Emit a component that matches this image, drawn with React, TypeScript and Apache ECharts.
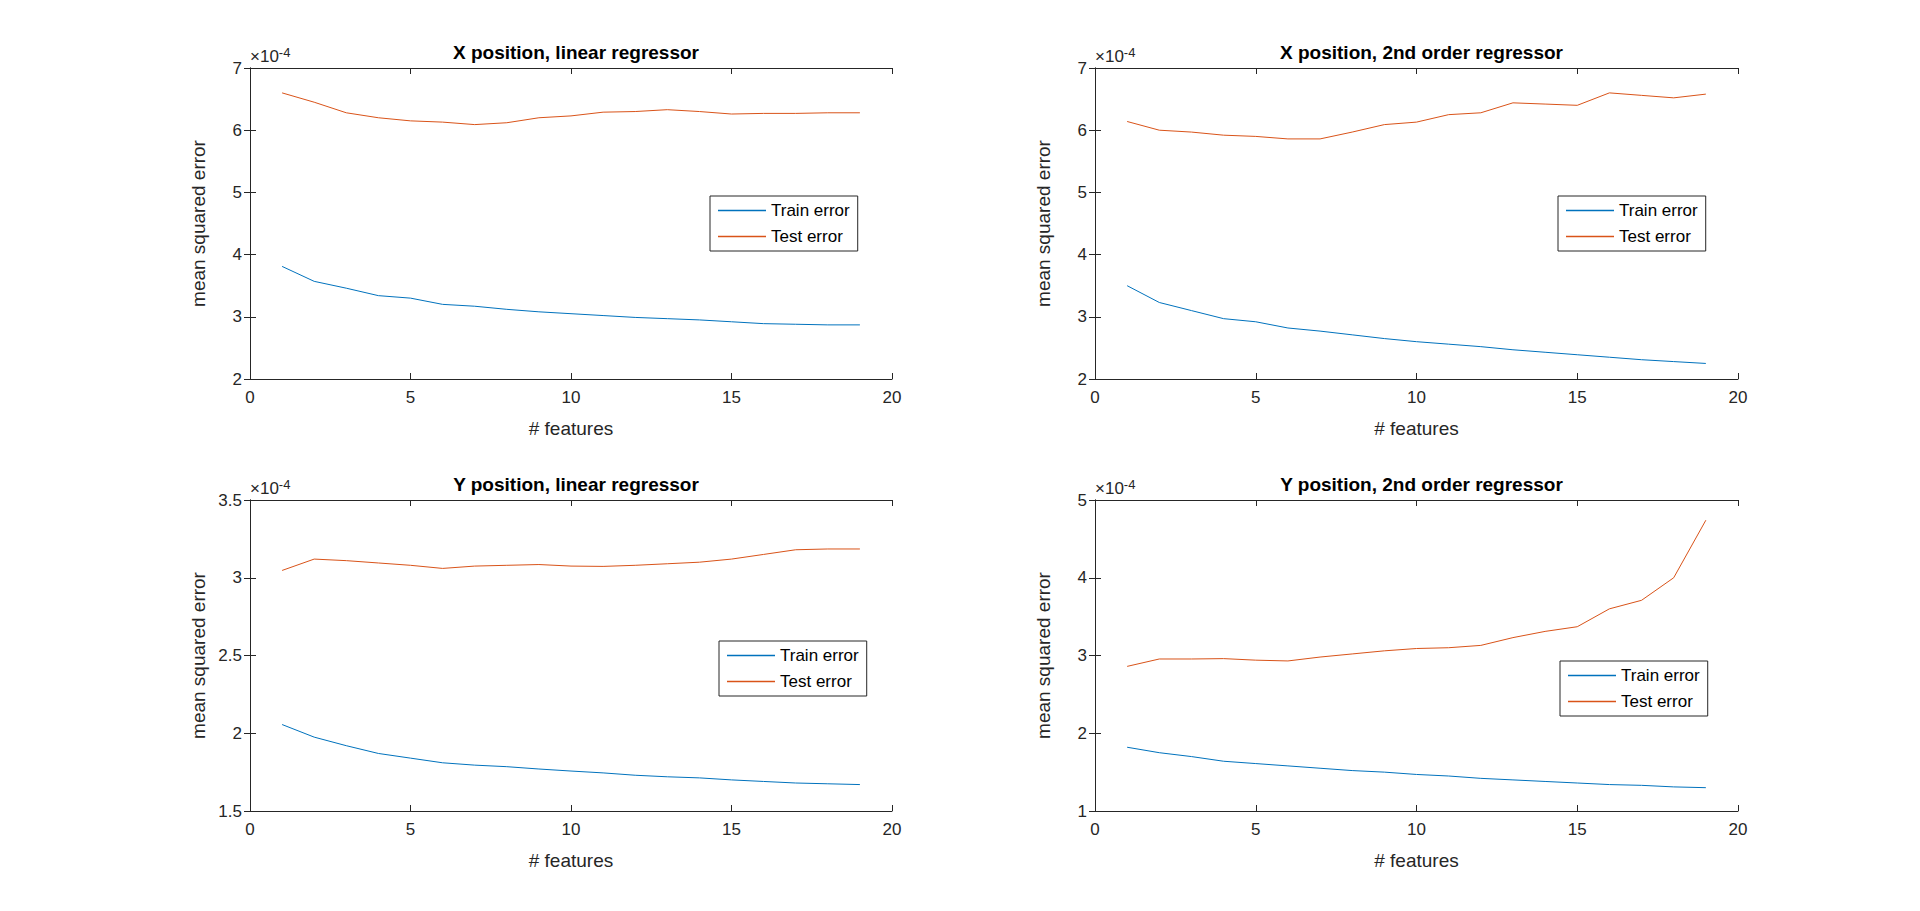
import { useEffect, useRef } from 'react';
import * as echarts from 'echarts';

const features = [1, 2, 3, 4, 5, 6, 7, 8, 9, 10, 11, 12, 13, 14, 15, 16, 17, 18, 19];

// values in units of 1e-4
const xLinTrain = [3.81, 3.57, 3.46, 3.34, 3.3, 3.2, 3.17, 3.12, 3.08, 3.05, 3.02, 2.99, 2.97, 2.95, 2.92, 2.89, 2.88, 2.87, 2.87];
const xLinTest = [6.6, 6.45, 6.28, 6.2, 6.15, 6.13, 6.09, 6.12, 6.2, 6.23, 6.29, 6.3, 6.33, 6.3, 6.26, 6.27, 6.27, 6.28, 6.28];
const x2Train = [3.5, 3.23, 3.1, 2.97, 2.92, 2.82, 2.77, 2.71, 2.65, 2.6, 2.56, 2.52, 2.47, 2.43, 2.39, 2.35, 2.31, 2.28, 2.25];
const x2Test = [6.14, 6.0, 5.97, 5.92, 5.9, 5.86, 5.86, 5.97, 6.09, 6.13, 6.25, 6.28, 6.44, 6.42, 6.4, 6.6, 6.56, 6.52, 6.58];
const yLinTrain = [2.056, 1.975, 1.92, 1.87, 1.84, 1.81, 1.795, 1.785, 1.77, 1.757, 1.745, 1.73, 1.72, 1.713, 1.7, 1.69, 1.68, 1.675, 1.67];
const yLinTest = [3.047, 3.12, 3.11, 3.095, 3.08, 3.06, 3.075, 3.08, 3.085, 3.075, 3.073, 3.08, 3.09, 3.1, 3.12, 3.15, 3.18, 3.185, 3.185];
const y2Train = [1.82, 1.75, 1.7, 1.64, 1.61, 1.58, 1.55, 1.52, 1.5, 1.47, 1.45, 1.42, 1.4, 1.38, 1.36, 1.34, 1.33, 1.31, 1.3];
const y2Test = [2.86, 2.955, 2.955, 2.96, 2.94, 2.93, 2.98, 3.02, 3.06, 3.09, 3.1, 3.13, 3.23, 3.31, 3.37, 3.6, 3.71, 4.0, 4.74];

const titles = [
  'X position, linear regressor',
  'X position, 2nd order regressor',
  'Y position, linear regressor',
  'Y position, 2nd order regressor',
];
const yRanges = [
  { min: 2, max: 7, interval: 1 },
  { min: 2, max: 7, interval: 1 },
  { min: 1.5, max: 3.5, interval: 0.5 },
  { min: 1, max: 5, interval: 1 },
];
const seriesData = [
  [xLinTrain, xLinTest],
  [x2Train, x2Test],
  [yLinTrain, yLinTest],
  [y2Train, y2Test],
];

const FONT = '"Liberation Sans", Arial, sans-serif';
const INK = '#262626';
const grids = [
  { left: 250, top: 68, width: 642, height: 311 },
  { left: 1095, top: 68, width: 643, height: 311 },
  { left: 250, top: 500, width: 642, height: 311 },
  { left: 1095, top: 500, width: 643, height: 311 },
];
const legendPos = [
  { left: 710, top: 196 },
  { left: 1558, top: 196 },
  { left: 719, top: 641 },
  { left: 1560, top: 661 },
];

export default function App() {
  const ref = useRef<HTMLDivElement>(null);

  useEffect(() => {
    if (!ref.current) return;
    const chart = echarts.init(ref.current, null, { renderer: 'svg' });
    const tick = { show: true, inside: true, length: 6, lineStyle: { color: INK } };
    const line = { show: true, lineStyle: { color: INK, width: 1 } };
    const label = { color: INK, fontFamily: FONT, fontSize: 17 };
    const nameStyle = { color: INK, fontFamily: FONT, fontSize: 19 };

    const xAxis: any[] = [];
    const yAxis: any[] = [];
    const series: any[] = [];
    grids.forEach((_, i) => {
      const r = yRanges[i];
      xAxis.push(
        {
          gridIndex: i, type: 'value', min: 0, max: 20, interval: 5, position: 'bottom',
          axisLine: line, axisTick: tick, axisLabel: { ...label, margin: 10 }, splitLine: { show: false },
          name: '# features', nameLocation: 'middle', nameGap: 40, nameTextStyle: nameStyle,
        },
        {
          gridIndex: i, type: 'value', min: 0, max: 20, interval: 5, position: 'top',
          axisLine: line, axisTick: tick, axisLabel: { show: false }, splitLine: { show: false },
        },
      );
      yAxis.push(
        {
          gridIndex: i, type: 'value', ...r, position: 'left',
          axisLine: line, axisTick: tick, axisLabel: { ...label, margin: 8 }, splitLine: { show: false },
          name: 'mean squared error', nameLocation: 'middle', nameGap: 42, nameTextStyle: nameStyle,
        },
        {
          gridIndex: i, type: 'value', ...r, position: 'right',
          axisLine: line, axisTick: tick, axisLabel: { show: false }, splitLine: { show: false },
        },
      );
      const [train, test] = seriesData[i];
      series.push(
        {
          name: 'Train error', type: 'line', xAxisIndex: i * 2, yAxisIndex: i * 2,
          data: features.map((f, k) => [f, train[k]]), showSymbol: false,
          lineStyle: { color: '#0072BD', width: 1 }, itemStyle: { color: '#0072BD' },
        },
        {
          name: 'Test error', type: 'line', xAxisIndex: i * 2, yAxisIndex: i * 2,
          data: features.map((f, k) => [f, test[k]]), showSymbol: false,
          lineStyle: { color: '#D95319', width: 1 }, itemStyle: { color: '#D95319' },
        },
      );
    });

    chart.setOption({
      animation: false,
      backgroundColor: '#fff',
      title: grids.map((g, i) => ({
        text: titles[i],
        left: g.left + g.width / 2,
        top: g.top - 30,
        textAlign: 'center',
        textStyle: { color: '#000', fontFamily: FONT, fontSize: 19, fontWeight: 'bold' },
      })),
      grid: grids,
      xAxis,
      yAxis,
      series,
      legend: grids.map((_, i) => ({
        ...legendPos[i],
        orient: 'vertical',
        data: ['Train error', 'Test error'],
        icon: 'rect',
        itemWidth: 48,
        itemHeight: 1.3,
        itemGap: 9,
        padding: [6, 8, 6, 8],
        borderColor: INK,
        borderWidth: 1,
        backgroundColor: '#fff',
        selectedMode: false,
        textStyle: { color: '#000', fontFamily: FONT, fontSize: 17 },
      })),
      graphic: grids.map((g) => ({
        type: 'text',
        left: g.left,
        top: g.top - 22,
        style: {
          text: '×10{s|-4}',
          fill: INK,
          font: `17px ${FONT}`,
          rich: { s: { fontSize: 13, verticalAlign: 'top', fill: INK, fontFamily: FONT, padding: [0, 0, 8, 0] } },
        },
      })),
    });
    return () => chart.dispose();
  }, []);

  return <div ref={ref} style={{ position: 'fixed', left: 0, top: 0, width: 1920, height: 911 }} />;
}
